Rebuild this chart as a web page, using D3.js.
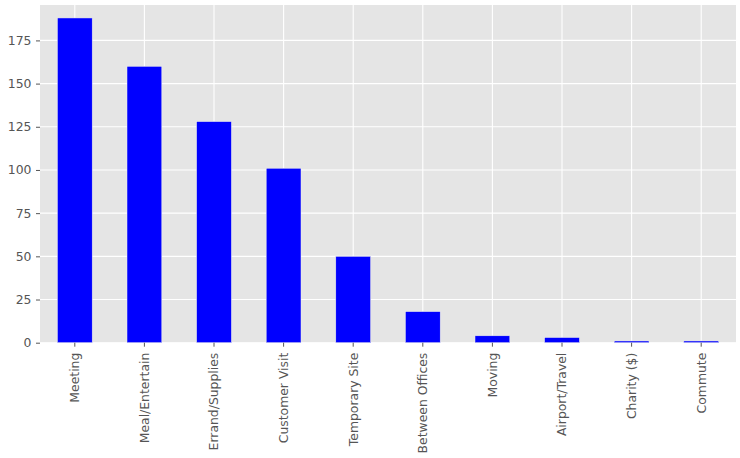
<!DOCTYPE html>
<html>
<head>
<meta charset="utf-8">
<script src="https://cdn.jsdelivr.net/npm/d3@7"></script>
<style>
  body { margin: 0; background: #fff; }
  svg text { font-family: "DejaVu Sans", sans-serif; }
</style>
</head>
<body>
<div id="chart-area"></div>
<script>
var categories = ["Meeting", "Meal/Entertain", "Errand/Supplies", "Customer Visit", "Temporary Site",
    "Between Offices", "Moving", "Airport/Travel", "Charity ($)", "Commute"];
var values = [188, 160, 128, 101, 50, 18, 4, 3, 1, 1];
var yTicks = [0, 25, 50, 75, 100, 125, 150, 175];

var svg_width = 740;
var svg_height = 458;
// plot area edges (careful: "top" is taken by window.top)
var p_left = 40, p_right = 736, p_top = 5, p_bottom = 342.7;
var font_size = "12.4px";

var svg = d3.select("#chart-area").append("svg")
    .attr("width", svg_width)
    .attr("height", svg_height);

var x = d3.scaleBand()
    .domain(categories)
    .range([p_left, p_right])
    .paddingInner(0.5)
    .paddingOuter(0.25);

var y = d3.scaleLinear()
    .domain([0, 195.5])
    .range([p_bottom, p_top]);

// background
svg.append("rect")
    .attr("x", p_left).attr("y", p_top)
    .attr("width", p_right - p_left).attr("height", p_bottom - p_top)
    .attr("fill", "#e5e5e5");

// grid
svg.append("g").selectAll("line")
    .data(yTicks)
    .enter().append("line")
    .attr("x1", p_left).attr("x2", p_right)
    .attr("y1", (d) => y(d)).attr("y2", (d) => y(d))
    .attr("stroke", "#fff").attr("stroke-width", 1.1);

svg.append("g").selectAll("line")
    .data(categories)
    .enter().append("line")
    .attr("x1", (d) => x(d) + x.bandwidth() / 2).attr("x2", (d) => x(d) + x.bandwidth() / 2)
    .attr("y1", p_top).attr("y2", p_bottom)
    .attr("stroke", "#fff").attr("stroke-width", 1.1);

// bars
svg.append("g").selectAll("rect")
    .data(values)
    .enter().append("rect")
    .attr("x", (d, i) => x(categories[i]))
    .attr("y", (d) => y(d))
    .attr("width", x.bandwidth())
    .attr("height", (d) => p_bottom - y(d))
    .attr("fill", "#0000ff")
    .attr("stroke", "#eeeeee")
    .attr("stroke-width", 0.5);

// y axis
var yAxis = svg.append("g")
    .attr("transform", "translate(" + p_left + ",0)")
    .call(d3.axisLeft(y).tickValues(yTicks).tickSize(4).tickPadding(4.5));
yAxis.select(".domain").remove();
yAxis.selectAll(".tick line").attr("stroke", "#555555");
yAxis.selectAll(".tick text")
    .attr("fill", "#555555")
    .style("font-size", font_size);

// x axis
var xAxis = svg.append("g")
    .attr("transform", "translate(0," + p_bottom + ")")
    .call(d3.axisBottom(x).tickSize(4).tickPadding(4));
xAxis.select(".domain").remove();
xAxis.selectAll(".tick line").attr("stroke", "#555555");
xAxis.selectAll(".tick text")
    .attr("fill", "#555555")
    .style("font-size", font_size)
    .attr("text-anchor", "end")
    .attr("transform", "rotate(-90)")
    .attr("x", -10)
    .attr("y", 0)
    .attr("dy", "0.35em");
</script>
</body>
</html>
